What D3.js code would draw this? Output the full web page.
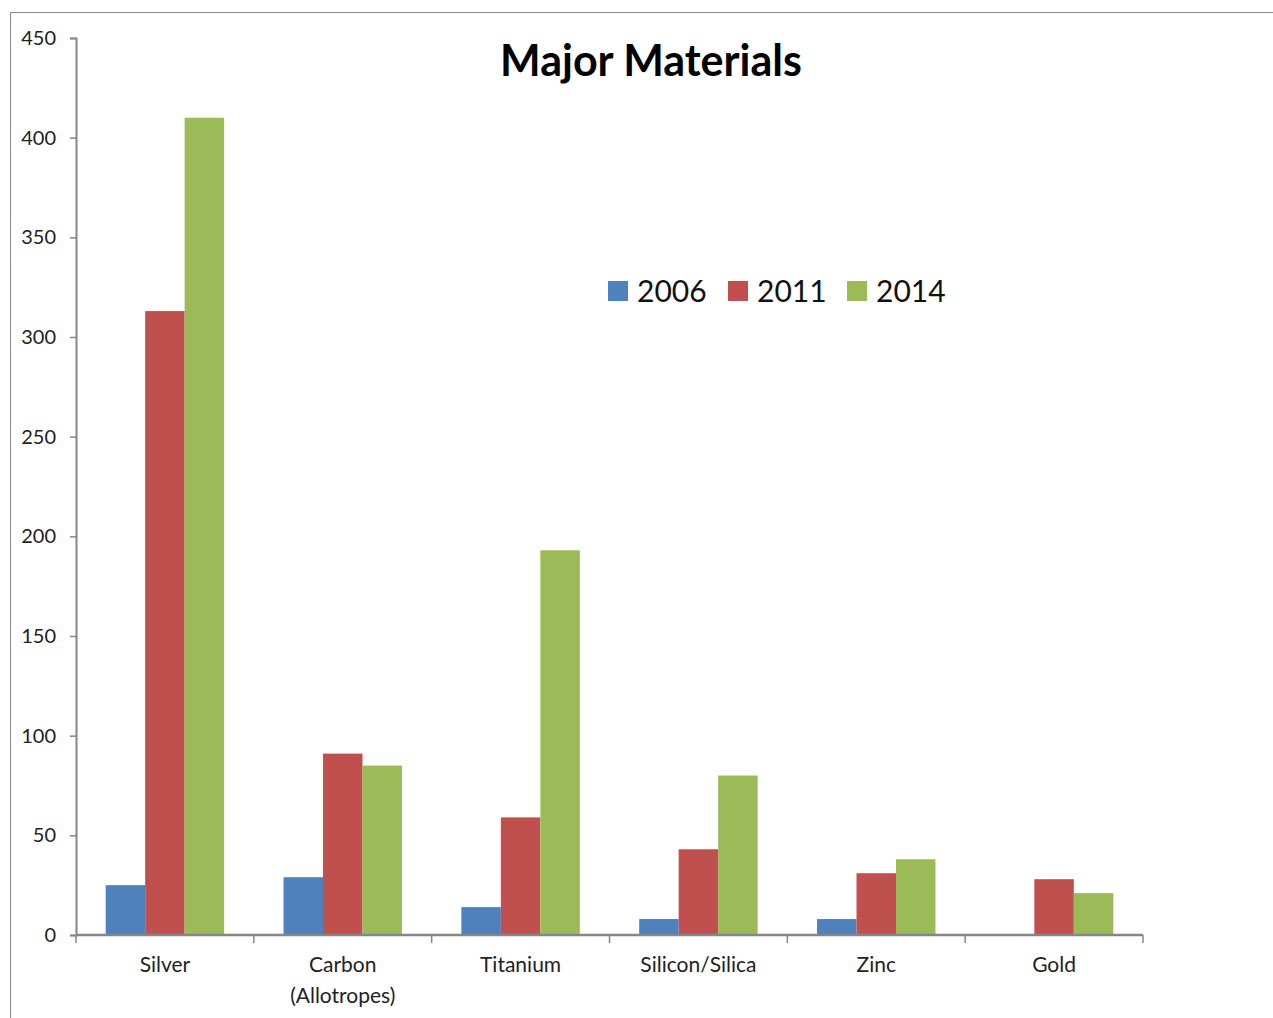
<!DOCTYPE html>
<html><head><meta charset="utf-8">
<script src="https://cdn.jsdelivr.net/npm/d3@7"></script>
<style>body{margin:0;background:#fff;}svg{display:block;font-family:Lato,"Open Sans",sans-serif;}</style>
</head><body><svg id="c" width="1273" height="1018"></svg>
<script>
const categories = ["Silver", "Carbon\n(Allotropes)", "Titanium", "Silicon/Silica", "Zinc", "Gold"];
const seriesNames = ["2006", "2011", "2014"];
const values2006 = [25, 29, 14, 8, 8, 0];
const values2011 = [313, 91, 59, 43, 31, 28];
const values2014 = [410, 85, 193, 80, 38, 21];
const colors = ["#4f81bd", "#c0504d", "#9bbb59"];
const yTicks = [0, 50, 100, 150, 200, 250, 300, 350, 400, 450];

(function(){
const svg = d3.select("#c");
svg.append("path").attr("d", "M10.5,1018 V12.5 H1273").attr("fill","none").attr("stroke","#888").attr("stroke-width",1);

const pl = 76, pr = 1143, pt = 38, pb = 935;
const x = d3.scaleBand().domain(categories).range([pl, pr]).padding(0);
const xs = d3.scaleBand().domain(seriesNames).range([x.bandwidth()*0.167, x.bandwidth()*0.833]).padding(0);
const y = d3.scaleLinear().domain([0, 450]).range([pb, pt]);

const data = categories.map((c, i) => ({c, v: [values2006[i], values2011[i], values2014[i]]}));
const g = svg.append("g");
g.selectAll("g.grp").data(data).join("g").attr("class","grp")
  .attr("transform", d => `translate(${x(d.c)},0)`)
  .selectAll("rect").data(d => d.v.map((v, j) => ({s: seriesNames[j], v, j})))
  .join("rect")
  .attr("x", d => xs(d.s)).attr("width", xs.bandwidth())
  .attr("y", d => y(d.v)).attr("height", d => y(0) - y(d.v))
  .attr("fill", d => colors[d.j]);

const ya = svg.append("g").attr("transform", `translate(${pl},0)`)
  .call(d3.axisLeft(y).tickValues(yTicks).tickSize(6).tickPadding(14));
ya.select(".domain").attr("stroke","#868686").attr("stroke-width",2);
ya.selectAll(".tick line").attr("stroke","#868686").attr("stroke-width",1.5);
ya.selectAll(".tick text").attr("font-size",20).attr("fill","#222").attr("font-family","Lato,'Open Sans',sans-serif");

const xa = svg.append("g").attr("transform", `translate(0,${pb})`);
xa.append("line").attr("x1", pl).attr("x2", pr).attr("y1",0).attr("y2",0).attr("stroke","#868686").attr("stroke-width",2.5);
const bounds = categories.map(c => x(c)).concat([pr]);
xa.selectAll("line.t").data(bounds).join("line").attr("class","t")
  .attr("x1", d => d).attr("x2", d => d).attr("y1", 0).attr("y2", 8)
  .attr("stroke","#868686").attr("stroke-width",1.5);
xa.selectAll("text.cl").data(categories).join("text").attr("class","cl")
  .attr("x", d => x(d) + x.bandwidth()/2).attr("y", 37)
  .attr("text-anchor","middle").attr("font-size",21).attr("fill","#222")
  .each(function(d){
    const parts = d.split("\n");
    d3.select(this).selectAll("tspan").data(parts).join("tspan")
      .attr("x", x(d) + x.bandwidth()/2).attr("dy", (p,i) => i ? 31 : 0).text(p => p);
  });

svg.append("text").attr("x", 651).attr("y", 76).attr("text-anchor","middle")
  .attr("font-size",43).attr("font-weight","bold").attr("fill","#000").text("Major Materials");

const lg = svg.append("g").attr("transform","translate(608,281)");
const lx = [0, 120, 239];
seriesNames.forEach((s, i) => {
  lg.append("rect").attr("x", lx[i]).attr("y", 0).attr("width", 20).attr("height", 20).attr("fill", colors[i]);
  lg.append("text").attr("x", lx[i] + 29).attr("y", 21).attr("font-size", 30).attr("fill","#111").text(s);
});
})();
</script></body></html>
